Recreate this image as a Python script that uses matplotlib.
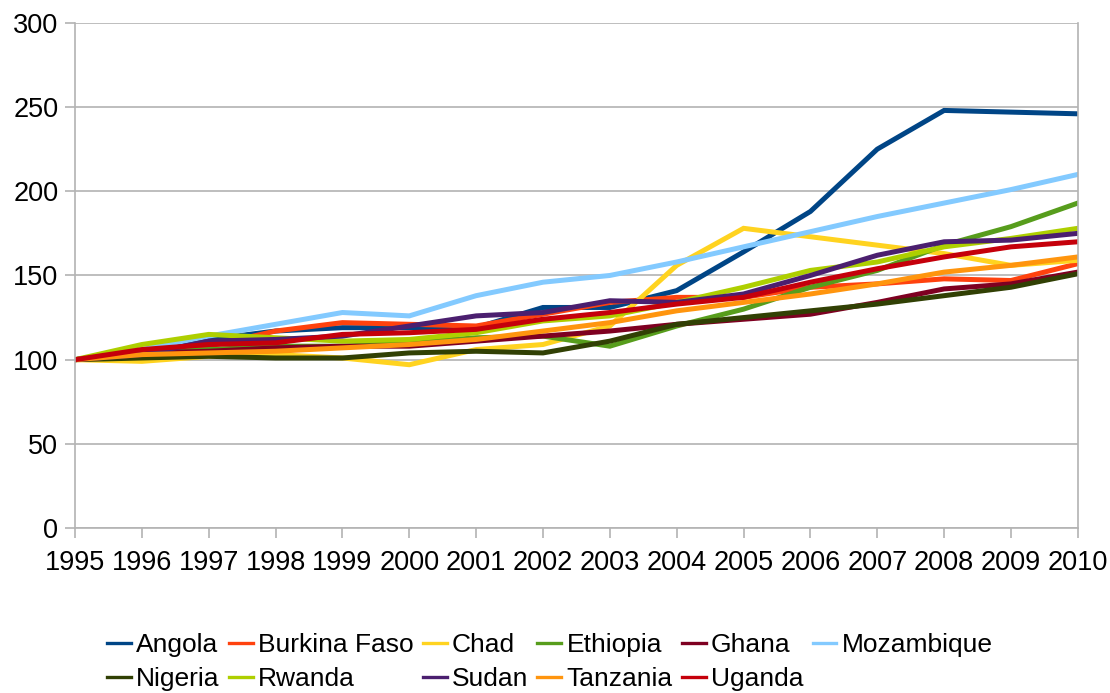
import matplotlib
matplotlib.use('Agg')
import matplotlib.pyplot as plt

plt.rcParams['font.family'] = ['Liberation Sans', 'DejaVu Sans']

years = list(range(1995, 2011))

angola = [100, 105, 112, 117, 119, 119, 119, 131, 131, 141, 164, 188, 225, 248, 247, 246]
burkina_faso = [100, 104, 108, 117, 122, 121, 120, 127, 134, 137, 137, 143, 145, 148, 147, 157]
chad = [100, 99, 102, 103, 101, 97, 106, 109, 120, 156, 178, 173, 168, 163, 156, 159]
ethiopia = [100, 104, 106, 108, 108, 110, 113, 114, 108, 120, 130, 143, 153, 168, 179, 193]
ghana = [100, 104, 105, 107, 108, 108, 111, 114, 117, 121, 124, 127, 134, 142, 145, 152]
mozambique = [100, 106, 114, 121, 128, 126, 138, 146, 150, 158, 167, 176, 185, 193, 201, 210]
nigeria = [100, 101, 102, 101, 101, 104, 105, 104, 111, 121, 125, 129, 133, 138, 143, 151]
rwanda = [100, 109, 115, 113, 111, 112, 116, 123, 126, 134, 143, 153, 158, 167, 172, 178]
sudan = [100, 103, 111, 112, 114, 120, 126, 128, 135, 134, 139, 150, 162, 170, 171, 175]
tanzania = [100, 103, 104, 105, 107, 109, 112, 117, 122, 129, 134, 139, 145, 152, 156, 161]
uganda = [100, 106, 109, 110, 115, 116, 118, 124, 128, 133, 137, 146, 154, 161, 167, 170]

countries = ['Angola', 'Burkina Faso', 'Chad', 'Ethiopia', 'Ghana', 'Mozambique',
             'Nigeria', 'Rwanda', 'Sudan', 'Tanzania', 'Uganda']
series = [angola, burkina_faso, chad, ethiopia, ghana, mozambique,
          nigeria, rwanda, sudan, tanzania, uganda]
colors = ['#004586', '#ff420e', '#ffd320', '#579d1c', '#7e0021', '#83caff',
          '#314004', '#aecf00', '#4b1f6f', '#ff950e', '#c5000b']

fig = plt.figure(figsize=(11.1, 6.93), dpi=100)
ax = fig.add_axes([0.0676, 0.238, 0.9034, 0.729])

lines = {}
for name, vals, c in zip(countries, series, colors):
    ln, = ax.plot(years, vals, color=c, linewidth=3.6, label=name, solid_joinstyle='miter')
    lines[name] = ln

ax.set_xlim(1995, 2010)
ax.set_ylim(0, 300)
ax.set_xticks(years)
ax.set_yticks(range(0, 301, 50))
ax.grid(axis='y', color='#b3b3b3', linewidth=1.2)
ax.set_axisbelow(True)
for s in ['left', 'bottom', 'right']:
    ax.spines[s].set_color('#b3b3b3')
    ax.spines[s].set_linewidth(1.2)
ax.spines['top'].set_visible(False)
ax.tick_params(axis='both', labelsize=19.5, color='#b3b3b3', length=7, width=1.2)
ax.tick_params(axis='y', pad=5)
ax.tick_params(axis='x', pad=9)

# legend is filled column by column, so reorder to read row by row
order = ['Angola', 'Nigeria', 'Burkina Faso', 'Rwanda', 'Chad', 'Sudan',
         'Ethiopia', 'Tanzania', 'Ghana', 'Uganda', 'Mozambique']
leg = ax.legend([lines[n] for n in order], order, ncol=6, loc='upper left',
                bbox_to_anchor=(0.087, 0.102), bbox_transform=fig.transFigure,
                frameon=False, fontsize=19, handlelength=0.9, handletextpad=0.2,
                columnspacing=0.35, labelspacing=0.4, borderaxespad=0)
for h in leg.get_lines():
    h.set_linewidth(2.4)

fig.savefig('out.png', dpi=100)
